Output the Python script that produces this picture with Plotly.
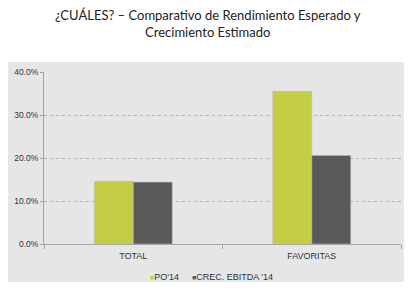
import plotly.graph_objects as go

categories = ["TOTAL", "FAVORITAS"]
series_names = ["PO'14", "CREC. EBITDA '14"]
po14 = [14.6, 35.5]
crec_ebitda = [14.4, 20.6]
series_values = [po14, crec_ebitda]
colors = ["#c5cd45", "#5a5a5a"]
tick_vals = [0, 10, 20, 30, 40]
tick_text = ["0.0%", "10.0%", "20.0%", "30.0%", "40.0%"]
title_text = "¿CUÁLES? – Comparativo de Rendimiento Esperado y<br>Crecimiento Estimado"

fig = go.Figure()
for name, vals, col in zip(series_names, series_values, colors):
    fig.add_trace(go.Bar(x=categories, y=vals, name=name,
                         marker=dict(color=col, line=dict(color="#bdbdbd", width=0.6)),
                         showlegend=False))

# panel background
fig.add_shape(type="rect", xref="paper", yref="paper",
              x0=-0.101, x1=1.008, y0=-0.221, y1=1.058,
              fillcolor="#e6e6e6", line=dict(width=0), layer="below")

# title
fig.add_annotation(x=(208 - 44) / 357, y=(244 - 5) / 172, xref="paper", yref="paper",
                   xanchor="center", yanchor="top", showarrow=False, align="center",
                   text=title_text,
                   font=dict(family="Lato, Open Sans", size=13, color="#222222"))

# legend as annotations
leg_x = [148, 190]
for i, (name, col) in enumerate(zip(series_names, colors)):
    fig.add_annotation(x=(leg_x[i] - 44) / 357, y=(244 - 277) / 172,
                       xref="paper", yref="paper", xanchor="left", yanchor="middle",
                       showarrow=False,
                       text=f"<span style='color:{col};font-size:7px'>■</span>{name}",
                       font=dict(family="Liberation Sans, Arial", size=9, color="#333333"))

fig.update_layout(
    width=413, height=292,
    margin=dict(l=44, r=12, t=72, b=48),
    paper_bgcolor="white", plot_bgcolor="rgba(0,0,0,0)",
    barmode="group", bargap=0.563, bargroupgap=0,
    xaxis=dict(showline=True, linecolor="#a6a6a6", linewidth=1,
               ticks="outside", tickson="boundaries", ticklen=4, tickcolor="#a6a6a6",
               ticklabelstandoff=3,
               tickfont=dict(family="Liberation Sans, Arial", size=9, color="#333333"),
               showgrid=False),
    yaxis=dict(range=[0, 40], tickvals=tick_vals, ticktext=tick_text,
               showline=True, linecolor="#a6a6a6", linewidth=1,
               ticks="outside", ticklen=3, tickcolor="#a6a6a6",
               gridcolor="#b3b3b3", griddash="dot", gridwidth=0.8,
               zeroline=False,
               tickfont=dict(family="Liberation Sans, Arial", size=8.5, color="#333333")),
)

fig.write_html("out.html")
